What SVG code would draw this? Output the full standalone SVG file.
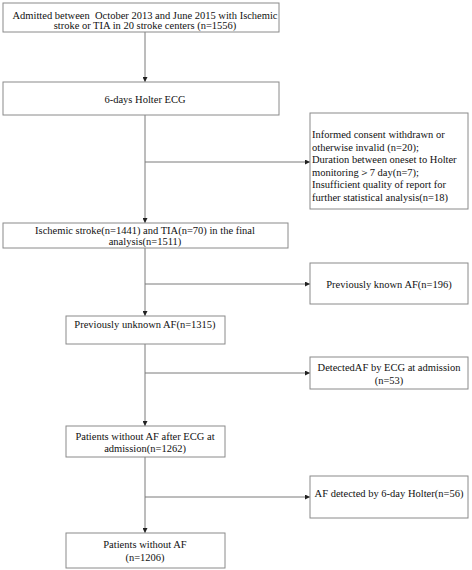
<svg xmlns="http://www.w3.org/2000/svg" width="472" height="570" viewBox="0 0 472 570">
<defs>
<style>
.box{fill:#fff;stroke:#8a8a8a;stroke-width:1}
.ln{stroke:#7a7a7a;stroke-width:1;fill:none}
text{font-family:"Liberation Serif","Times New Roman",serif;font-size:10.5px;fill:#111}
.c{text-anchor:middle}
</style>
<marker id="ah" viewBox="0 0 6 6" refX="6" refY="3" markerWidth="5" markerHeight="5" orient="auto" markerUnits="userSpaceOnUse">
<path d="M0,0 L6,3 L0,6 z" fill="#222"/>
</marker>
</defs>
<rect width="472" height="570" fill="#fff"/>
<g id="connectors">
<line class="ln" x1="145" y1="32" x2="145" y2="82" marker-end="url(#ah)"/>
<line class="ln" x1="145" y1="115" x2="145" y2="223" marker-end="url(#ah)"/>
<line class="ln" x1="145" y1="162" x2="310" y2="162" marker-end="url(#ah)"/>
<line class="ln" x1="145" y1="248" x2="145" y2="316" marker-end="url(#ah)"/>
<line class="ln" x1="145" y1="284" x2="310" y2="284" marker-end="url(#ah)"/>
<line class="ln" x1="145" y1="344" x2="145" y2="426" marker-end="url(#ah)"/>
<line class="ln" x1="145" y1="373" x2="310" y2="373" marker-end="url(#ah)"/>
<line class="ln" x1="145" y1="457" x2="145" y2="533" marker-end="url(#ah)"/>
<line class="ln" x1="145" y1="497" x2="310" y2="497" marker-end="url(#ah)"/>
</g>
<g id="n1">
<rect class="box" x="3" y="3" width="276" height="29"/>
<text class="c" x="145" y="18.5" xml:space="preserve">Admitted between  October 2013 and June 2015 with Ischemic</text>
<text class="c" x="145" y="29">stroke or TIA in 20 stroke centers (n=1556)</text>
</g>
<g id="n2">
<rect class="box" x="3" y="82" width="276" height="33"/>
<text class="c" x="145" y="102.5">6-days Holter ECG</text>
</g>
<g id="n3">
<rect class="box" x="310" y="113" width="158" height="96"/>
<text x="312" y="138">Informed consent withdrawn or</text>
<text x="312" y="150.5">otherwise invalid (n=20);</text>
<text x="312" y="163">Duration between oneset to Holter</text>
<text x="312" y="175.5">monitoring＞7 day(n=7);</text>
<text x="312" y="188">Insufficient quality of report for</text>
<text x="312" y="200.5">further statistical analysis(n=18)</text>
</g>
<g id="n4">
<rect class="box" x="3" y="223" width="285" height="25"/>
<text class="c" x="145" y="234">Ischemic stroke(n=1441) and TIA(n=70) in the final</text>
<text class="c" x="145" y="245">analysis(n=1511)</text>
</g>
<g id="n5">
<rect class="box" x="310" y="263" width="158" height="41"/>
<text class="c" x="389" y="288">Previously known AF(n=196)</text>
</g>
<g id="n6">
<rect class="box" x="66" y="316" width="159" height="28"/>
<text class="c" x="145" y="328">Previously unknown AF(n=1315)</text>
</g>
<g id="n7">
<rect class="box" x="310" y="357" width="158" height="32"/>
<text class="c" x="389" y="371">DetectedAF by ECG at admission</text>
<text class="c" x="389" y="384">(n=53)</text>
</g>
<g id="n8">
<rect class="box" x="66" y="426" width="159" height="31"/>
<text class="c" x="145" y="440">Patients without AF after ECG at</text>
<text class="c" x="145" y="451.5">admission(n=1262)</text>
</g>
<g id="n9">
<rect class="box" x="310" y="476" width="158" height="42"/>
<text class="c" x="389" y="497">AF detected by 6-day Holter(n=56)</text>
</g>
<g id="n10">
<rect class="box" x="66" y="533" width="159" height="35"/>
<text class="c" x="145" y="548">Patients without AF</text>
<text class="c" x="145" y="561">(n=1206)</text>
</g>
</svg>
